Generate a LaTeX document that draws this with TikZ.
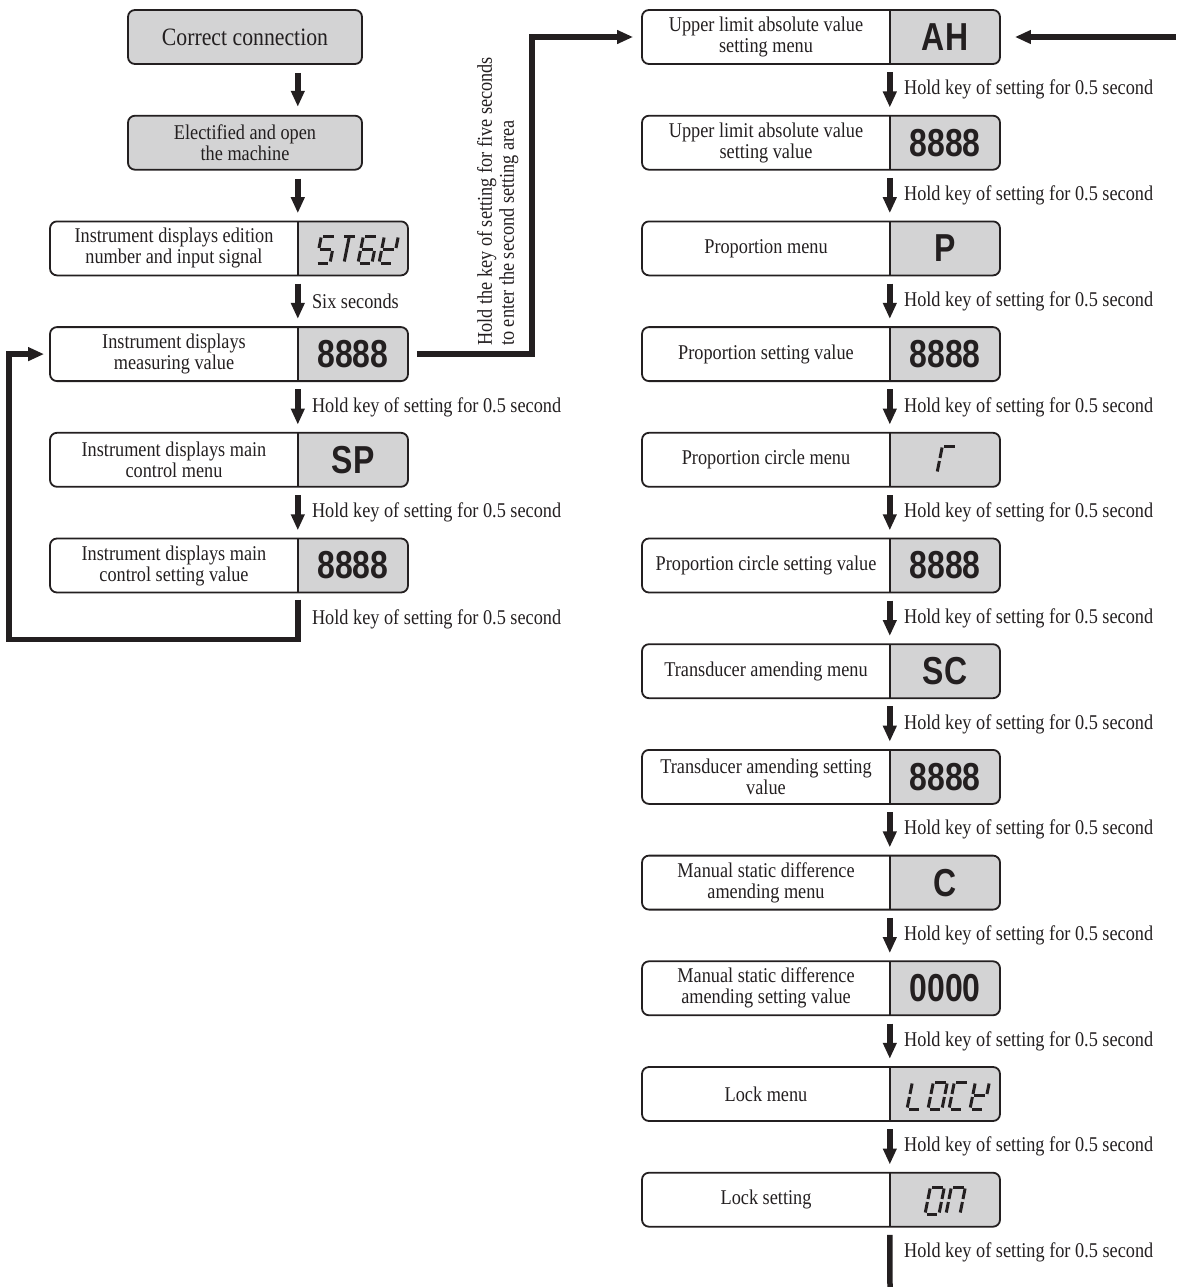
\documentclass[tikz,border=0pt]{standalone}
\usepackage{fontspec}
\setmainfont{Liberation Serif}[FakeStretch=0.87]
\newfontfamily\dispfont{Liberation Sans}[FakeStretch=0.82]
\usetikzlibrary{arrows.meta,calc}
\definecolor{ink}{RGB}{35,31,32}
\definecolor{boxfill}{RGB}{211,211,212}

% seven-segment pieces (w=14, h=27)
\newcommand\SgA{\draw[seg] (2,27)--(12.5,27);}
\newcommand\SgB{\draw[seg] (14,25.5)--(14,15);}
\newcommand\SgC{\draw[seg] (14,12)--(14,1.5);}
\newcommand\SgD{\draw[seg] (1.5,0)--(12,0);}
\newcommand\SgE{\draw[seg] (0,1.5)--(0,12);}
\newcommand\SgF{\draw[seg] (0,15)--(0,25.5);}
\newcommand\SgG{\draw[seg] (1.5,13.5)--(12.5,13.5);}
\newcommand\SgT{\draw[seg] (7,25.5)--(7,1.5);}
\newcommand\segchar[3]{\begin{scope}[shift={(#1,#2)},x={(1pt,0pt)},y={(0.2pt,1pt)}]#3\end{scope}}

\tikzset{
  frame/.style={draw=ink, line width=1.8pt, rounded corners=7pt, inner sep=0pt},
  divline/.style={draw=ink, line width=1.8pt},
  boxtext/.style={text=ink, align=center, font=\fontsize{21}{21}\selectfont, inner sep=0pt},
  disp/.style={text=ink, font={\dispfont\bfseries\fontsize{39}{39}\selectfont}, inner sep=0pt},
  lbl/.style={text=ink, font=\fontsize{21}{21}\selectfont, inner sep=0pt, anchor=west, xshift=11.5pt},
  bigarrow/.style={draw=ink, line width=5.5pt, -{Triangle[length=16pt,width=13pt]}},
  thickline/.style={draw=ink, line width=5.5pt},
  seg/.style={draw=ink, line width=3pt},
}

% #1 name, #2 x1, #3 divider x, #4 x2, #5 top y, #6 text, #7 display
\newcommand\srow[7]{%
  \begin{scope}
    \clip (#3,#5-3) rectangle (#4+3,#5+57);
    \fill[boxfill, rounded corners=7pt] (#2,#5) rectangle (#4,#5+54);
  \end{scope}
  \node[frame, minimum width={(#4-#2)*1pt}, minimum height=54pt] (#1) at ({(#2+#4)/2},{#5+27}) {};
  \node[inner sep=0pt, minimum width={(#4-#3)*1pt}, minimum height=54pt] (#1v) at ({(#3+#4)/2},{#5+27}) {};
  \draw[divline] (#1v.north west) -- (#1v.south west);
  \node[boxtext] (#1t) at ({(#2+#3)/2},{#5+27}) {#6};
  \node[disp] (#1d) at (#1v.center) {#7};
}

\begin{document}
\begin{tikzpicture}[x={(1pt,0pt)}, y={(0pt,-1pt)}]
\useasboundingbox (0,0) rectangle (1176,1287);

% ---------- left column ----------
\node[frame, fill=boxfill, minimum width=234pt, minimum height=54pt, text=ink,
      font=\fontsize{25}{25}\selectfont] (L0) at (245,37) {Correct connection};
\node[frame, fill=boxfill, minimum width=234pt, minimum height=54pt, text=ink, align=center,
      font=\fontsize{21}{21}\selectfont] (L1) at (245,142.7) {Electified and open\\the machine};
\srow{L2}{50}{298}{408}{221.4}{Instrument displays edition\\number and input signal}{}
\srow{L3}{50}{298}{408}{327.1}{Instrument displays\\measuring value}{8888}
\srow{L4}{50}{298}{408}{432.8}{Instrument displays main\\control menu}{SP}
\srow{L5}{50}{298}{408}{538.5}{Instrument displays main\\control setting value}{8888}

% ST6K
\segchar{316}{263}{\SgA\SgF\SgG\SgC\SgD}
\segchar{337}{263}{\SgA\SgT}
\segchar{358}{263}{\SgA\SgF\SgG\SgE\SgD\SgC}
\segchar{379}{263}{\SgF\SgB\SgG\SgE\SgD}

\draw[bigarrow] ($(L0.south -| L2v.west)+(0,8)$) -- ($(L1.north -| L2v.west)+(0,-8)$);
\draw[bigarrow] ($(L1.south -| L2v.west)+(0,8)$) -- ($(L2v.north west)+(0,-8)$);
\draw[bigarrow] ($(L2v.south west)+(0,8)$) -- node[lbl] (lab2) {Six seconds} ($(L3v.north west)+(0,-8)$);
\draw[bigarrow] ($(L3v.south west)+(0,8)$) -- node[lbl] (lab3) {Hold key of setting for 0.5 second} ($(L4v.north west)+(0,-8)$);
\draw[bigarrow] ($(L4v.south west)+(0,8)$) -- node[lbl] (lab4) {Hold key of setting for 0.5 second} ($(L5v.north west)+(0,-8)$);

% loop back
\draw[bigarrow, line join=miter] ($(L5v.south west)+(0,7)$) -- node[lbl] (lab5) {Hold key of setting for 0.5 second}
   ($(L5v.south west)+(0,47)$) -| ($(L3.west)+(-40,0)$) -- ($(L3.west)+(-5,0)$);

% ---------- right column ----------
\srow{R0}{642}{890}{1000}{10}{Upper limit absolute value\\setting menu}{AH}
\srow{R1}{642}{890}{1000}{115.7}{Upper limit absolute value\\setting value}{8888}
\srow{R2}{642}{890}{1000}{221.4}{Proportion menu}{P}
\srow{R3}{642}{890}{1000}{327.1}{Proportion setting value}{8888}
\srow{R4}{642}{890}{1000}{432.8}{Proportion circle menu}{}
\srow{R5}{642}{890}{1000}{538.5}{Proportion circle setting value}{8888}
\srow{R6}{642}{890}{1000}{644.2}{Transducer amending menu}{SC}
\srow{R7}{642}{890}{1000}{749.9}{Transducer amending setting\\value}{8888}
\srow{R8}{642}{890}{1000}{855.6}{Manual static difference\\amending menu}{C}
\srow{R9}{642}{890}{1000}{961.3}{Manual static difference\\amending setting value}{0000}
\srow{R10}{642}{890}{1000}{1067}{Lock menu}{}
\srow{R11}{642}{890}{1000}{1172.7}{Lock setting}{}

% to second setting area
\draw[bigarrow, line join=miter] ($(L3.east)+(8,0)$) -- ($(L3.east)+(123,0)$) |- ($(R0.west)+(-8,0)$);
\node[rotate=90, anchor=north west, align=left, text=ink, inner sep=0pt,
      font=\fontsize{21}{22}\selectfont] (vlab) at (477,346)
      {Hold the key of setting for five seconds\\to enter the second setting area};

% r
\segchar{937}{473}{\SgA\SgF\SgE}
% LOCK
\segchar{907}{1109}{\SgF\SgE\SgD}
\segchar{928}{1109}{\SgA\SgB\SgC\SgD\SgE\SgF}
\segchar{949}{1109}{\SgA\SgF\SgE\SgD}
\segchar{970}{1109}{\SgF\SgB\SgG\SgE\SgD}
% ON
\segchar{925}{1214}{\SgA\SgB\SgC\SgD\SgE\SgF}
\segchar{946}{1214}{\SgE\SgF\SgA\SgB\SgC}

\coordinate (trin) at (1176,37);
\draw[bigarrow] (trin) -- ($(R0.east)+(14,0)$);

\foreach \a/\b in {R0/R1,R1/R2,R2/R3,R3/R4,R4/R5,R5/R6,R6/R7,R7/R8,R8/R9,R9/R10,R10/R11}{
  \draw[bigarrow] ($(\a v.south west)+(0,8)$) -- node[lbl] (lab\a) {Hold key of setting for 0.5 second} ($(\b v.north west)+(0,-8)$);
}
\coordinate (endB) at (890,1287);
\draw[thickline] ($(R11v.south west)+(0,8)$) -- node[lbl, pos=0.33] (labR11) {Hold key of setting for 0.5 second} (endB);

\end{tikzpicture}
\end{document}
